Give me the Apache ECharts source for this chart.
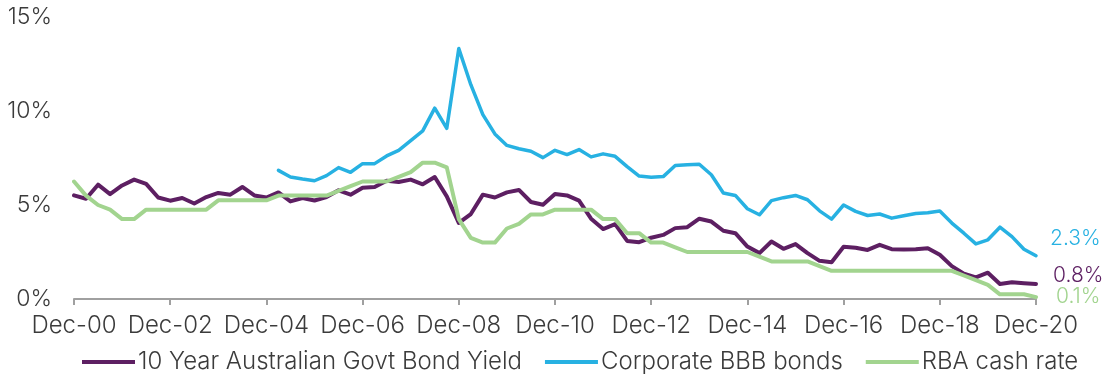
<!DOCTYPE html>
<html>
<head>
<meta charset="utf-8">
<style>
  html, body { margin: 0; padding: 0; background: #ffffff; }
  #chart { width: 1107px; height: 377px; }
</style>
<script src="https://cdn.jsdelivr.net/npm/echarts@6/dist/echarts.min.js"></script>
</head>
<body>
<div id="chart"></div>
<script>
// Quarter-end dates, December 2000 to December 2020
const quarters = [
  'Dec-00',
  'Mar-01','Jun-01','Sep-01','Dec-01','Mar-02','Jun-02','Sep-02','Dec-02',
  'Mar-03','Jun-03','Sep-03','Dec-03','Mar-04','Jun-04','Sep-04','Dec-04',
  'Mar-05','Jun-05','Sep-05','Dec-05','Mar-06','Jun-06','Sep-06','Dec-06',
  'Mar-07','Jun-07','Sep-07','Dec-07','Mar-08','Jun-08','Sep-08','Dec-08',
  'Mar-09','Jun-09','Sep-09','Dec-09','Mar-10','Jun-10','Sep-10','Dec-10',
  'Mar-11','Jun-11','Sep-11','Dec-11','Mar-12','Jun-12','Sep-12','Dec-12',
  'Mar-13','Jun-13','Sep-13','Dec-13','Mar-14','Jun-14','Sep-14','Dec-14',
  'Mar-15','Jun-15','Sep-15','Dec-15','Mar-16','Jun-16','Sep-16','Dec-16',
  'Mar-17','Jun-17','Sep-17','Dec-17','Mar-18','Jun-18','Sep-18','Dec-18',
  'Mar-19','Jun-19','Sep-19','Dec-19','Mar-20','Jun-20','Sep-20','Dec-20'
];

// 10 Year Australian Government bond yield (%)
const govtBond = [
  5.51, 5.33, 6.08, 5.58, 6.04, 6.35, 6.12, 5.40, 5.23,
  5.37, 5.08, 5.42, 5.64, 5.55, 5.96, 5.51, 5.40,
  5.67, 5.19, 5.37, 5.24, 5.42, 5.78, 5.55, 5.92,
  5.96, 6.29, 6.22, 6.35, 6.10, 6.49, 5.46, 4.05,
  4.52, 5.55, 5.40, 5.67, 5.80, 5.16, 5.01, 5.58,
  5.51, 5.23, 4.27, 3.72, 3.98, 3.09, 3.02, 3.26,
  3.41, 3.77, 3.82, 4.27, 4.12, 3.63, 3.50, 2.79,
  2.44, 3.06, 2.67, 2.92, 2.44, 2.03, 1.96, 2.78,
  2.73, 2.61, 2.88, 2.65, 2.63, 2.65, 2.70, 2.35,
  1.75, 1.35, 1.15, 1.40, 0.80, 0.89, 0.84, 0.8
];

// Corporate BBB bond yield (%), series begins March 2005
const corporateBBB = [
  null, null, null, null, null, null, null, null, null,
  null, null, null, null, null, null, null, null,
  6.84, 6.49, 6.38, 6.29, 6.56, 6.99, 6.74, 7.20,
  7.20, 7.61, 7.91, 8.42, 8.94, 10.15, 9.08, 13.32,
  11.4, 9.81, 8.78, 8.17, 7.99, 7.86, 7.52, 7.91,
  7.68, 7.95, 7.56, 7.72, 7.59, 7.04, 6.54, 6.48,
  6.51, 7.10, 7.14, 7.17, 6.61, 5.64, 5.51, 4.80,
  4.48, 5.23, 5.39, 5.51, 5.28, 4.69, 4.25, 5.00,
  4.66, 4.44, 4.52, 4.30, 4.43, 4.55, 4.59, 4.68,
  4.04, 3.50, 2.93, 3.15, 3.82, 3.32, 2.65, 2.3
];

// RBA cash rate target (%)
const cashRate = [
  6.25, 5.5, 5.0, 4.75, 4.25, 4.25, 4.75, 4.75, 4.75,
  4.75, 4.75, 4.75, 5.25, 5.25, 5.25, 5.25, 5.25,
  5.5, 5.5, 5.5, 5.5, 5.5, 5.75, 6.0, 6.25,
  6.25, 6.25, 6.5, 6.75, 7.25, 7.25, 7.0, 4.25,
  3.25, 3.0, 3.0, 3.75, 4.0, 4.5, 4.5, 4.75,
  4.75, 4.75, 4.75, 4.25, 4.25, 3.5, 3.5, 3.0,
  3.0, 2.75, 2.5, 2.5, 2.5, 2.5, 2.5, 2.5,
  2.25, 2.0, 2.0, 2.0, 2.0, 1.75, 1.5, 1.5,
  1.5, 1.5, 1.5, 1.5, 1.5, 1.5, 1.5, 1.5,
  1.5, 1.25, 1.0, 0.75, 0.25, 0.25, 0.25, 0.1
];

const seriesNames = ['10 Year Australian Govt Bond Yield', 'Corporate BBB bonds', 'RBA cash rate'];
const yTicks = [0, 5, 10, 15];

const FONT = 'Inter';
const TEXT = '#3b3b3b';
const PURPLE = '#5d1f62';
const BLUE = '#27b1e2';
const GREEN = '#a2d48f';

function makeSeries(name, data, color, width, labelOffset) {
  return {
    name: name,
    type: 'line',
    data: data,
    symbol: 'none',
    connectNulls: false,
    lineStyle: { color: color, width: width, cap: 'round', join: 'round' },
    itemStyle: { color: color },
    endLabel: {
      show: true,
      color: color,
      fontFamily: FONT,
      fontSize: 21,
      fontWeight: 300,
      distance: 14,
      offset: labelOffset,
      formatter: function (p) { return Number(p.value).toFixed(1) + '%'; }
    }
  };
}

const chart = echarts.init(document.getElementById('chart'), null, { renderer: 'canvas' });
chart.setOption({
  animation: false,
  backgroundColor: '#ffffff',
  textStyle: { fontFamily: FONT },
  grid: { left: 74, right: 71, top: 17, bottom: 78, containLabel: false },
  legend: {
    data: seriesNames,
    left: 82,
    top: 350,
    padding: 0,
    icon: 'rect',
    itemWidth: 53,
    itemHeight: 4,
    itemGap: 23,
    textStyle: { color: TEXT, fontSize: 24, fontWeight: 300, fontFamily: FONT, padding: [0, 0, 0, -2] }
  },
  xAxis: {
    type: 'category',
    data: quarters,
    boundaryGap: false,
    axisLine: { lineStyle: { color: '#a0a0a0', width: 2 } },
    axisTick: { show: true, interval: 7, length: 6, lineStyle: { color: '#a0a0a0', width: 2 } },
    axisLabel: { interval: 7, color: TEXT, fontSize: 24, fontWeight: 300, fontFamily: FONT, margin: 15 },
    splitLine: { show: false }
  },
  yAxis: {
    type: 'value',
    min: yTicks[0],
    max: yTicks[yTicks.length - 1],
    interval: 5,
    axisLine: { show: false },
    axisTick: { show: false },
    splitLine: { show: false },
    axisLabel: { color: TEXT, fontSize: 23, fontWeight: 300, fontFamily: FONT, margin: 22, formatter: '{value}%' }
  },
  series: [
    makeSeries(seriesNames[0], govtBond, PURPLE, 4, [3, -8]),
    makeSeries(seriesNames[1], corporateBBB, BLUE, 3.5, [0, -17]),
    makeSeries(seriesNames[2], cashRate, GREEN, 4, [6, 0])
  ]
});
</script>
</body>
</html>
